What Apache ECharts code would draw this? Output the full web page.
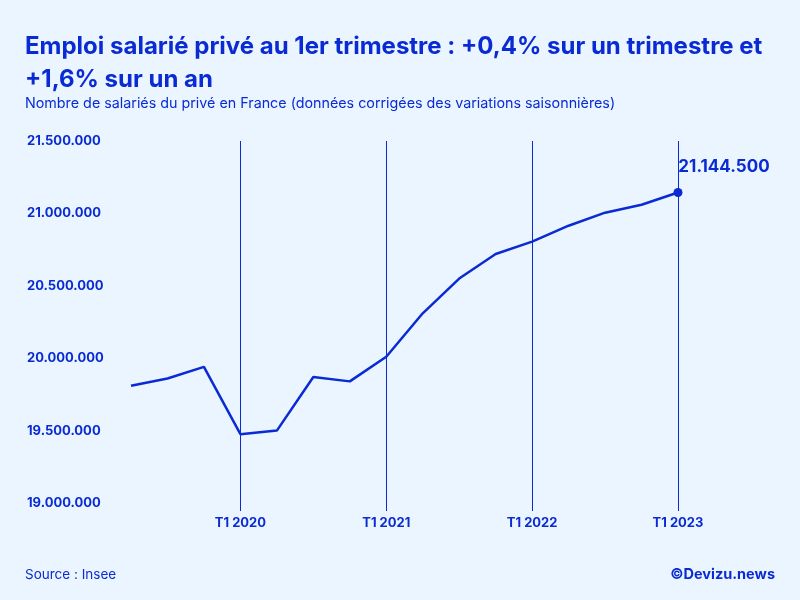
<!DOCTYPE html>
<html><head><meta charset="utf-8">
<script src="https://cdn.jsdelivr.net/npm/echarts@6/dist/echarts.min.js"></script>
<style>html,body{margin:0;padding:0;background:#EBF5FF}#c{width:800px;height:600px}</style>
</head><body><div id="c"></div>
<script>
const categories = ['T2 2019','T3 2019','T4 2019','T1 2020','T2 2020','T3 2020','T4 2020','T1 2021','T2 2021','T3 2021','T4 2021','T1 2022','T2 2022','T3 2022','T4 2022','T1 2023'];
const values = [19810000,19860000,19940000,19475000,19500000,19870000,19840000,20010000,20310000,20550000,20720000,20805000,20915000,21005000,21060000,21144500];
const yTicks = [19000000,19500000,20000000,20500000,21000000,21500000];
const C = '#0A2BD4';
const fmt = v => String(v).replace(/\B(?=(\d{3})+(?!\d))/g,'.');
const chart = echarts.init(document.getElementById('c'));
chart.setOption({
  backgroundColor:'#EBF5FF',
  textStyle:{fontFamily:'Inter'},
  title:[
    {text:'Emploi salarié privé au 1er trimestre : +0,4% sur un trimestre et\n+1,6% sur un an',left:20,top:25,textStyle:{color:C,fontSize:24,fontWeight:'bold',lineHeight:33,fontFamily:'Inter'}},
    {text:'Nombre de salariés du privé en France (données corrigées des variations saisonnières)',left:20,top:92,textStyle:{color:C,fontSize:14.3,fontWeight:'normal',fontFamily:'Inter'}},
    {text:'Source : Insee',left:20,top:563,textStyle:{color:C,fontSize:13.5,fontWeight:'normal',fontFamily:'Inter'}},
    {text:'©Devizu.news',right:20,top:562,textStyle:{color:C,fontSize:14.5,fontWeight:'bold',fontFamily:'Inter'}}
  ],
  grid:{left:131,right:122,top:141,bottom:97},
  xAxis:{type:'category',data:categories,boundaryGap:false,
    axisLine:{show:false},axisTick:{show:true,length:8,interval:(i)=>i%4===3,lineStyle:{color:C}},
    axisLabel:{interval:(i)=>i%4===3,color:C,fontWeight:'bold',fontSize:13,margin:14},
    splitLine:{show:true,interval:(i)=>i%4===3,lineStyle:{color:C,width:1}}},
  yAxis:{type:'value',min:19000000,max:21500000,interval:500000,
    splitLine:{show:false},axisLine:{show:false},axisTick:{show:false},
    axisLabel:{formatter:fmt,color:C,fontWeight:'bold',fontSize:13,align:'left',margin:104}},
  series:[{type:'line',data:values,symbol:'circle',symbolSize:(v,p)=>p.dataIndex===values.length-1?9:0,
    showSymbol:true,lineStyle:{color:C,width:2.5},itemStyle:{color:C},
    label:{show:true,formatter:p=>p.dataIndex===values.length-1?fmt(p.value):'',position:'top',offset:[46,-8],color:C,fontWeight:'bold',fontSize:17}}]
});
</script></body></html>
